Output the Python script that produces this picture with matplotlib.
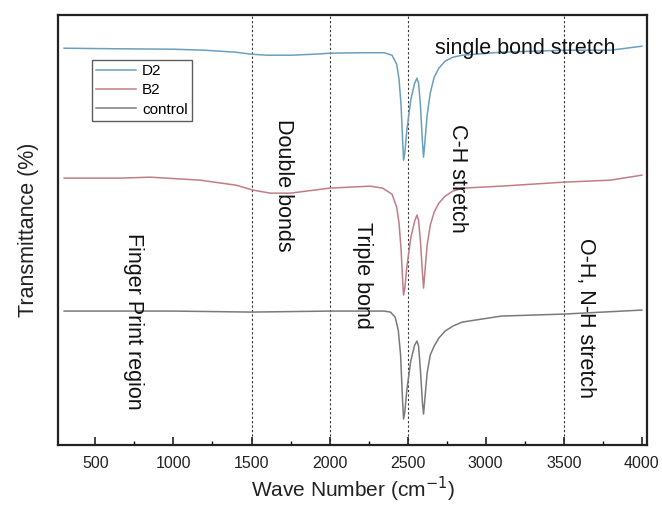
import matplotlib.pyplot as plt
from matplotlib.ticker import MultipleLocator

plt.rcParams['font.family'] = ['Liberation Sans', 'DejaVu Sans']

# Values (wave number, transmittance in plot units)
d2_x = [300, 600, 1000, 1200, 1400, 1500, 1600, 1750, 1900, 2000, 2200, 2350, 2400,
        2430, 2445, 2458, 2468, 2474, 2482, 2495, 2520, 2545, 2560, 2570, 2582, 2595,
        2602, 2610, 2625, 2645, 2670, 2700, 2740, 2790, 2850, 3100, 3500, 3800, 4000]
d2_y = [397, 396.5, 396, 395, 393, 391, 390, 390, 391, 392, 392.5, 392.5, 390,
        381, 366, 340, 305, 285, 292, 315, 345, 362, 367, 362, 340, 303,
        288, 302, 330, 352, 368, 377, 384, 388, 390, 393, 395, 395, 399]

b2_x = [300, 660, 850, 1170, 1400, 1511, 1620, 1750, 2000, 2260, 2340, 2400,
        2430, 2445, 2458, 2468, 2474, 2482, 2495, 2520, 2545, 2560, 2570, 2582, 2595,
        2602, 2610, 2625, 2645, 2670, 2700, 2740, 2790, 2850, 3100, 3500, 3800, 4000]
b2_y = [267, 267, 268, 265, 260, 255, 252, 252, 257, 259, 257, 251,
        238, 222, 196, 165, 150, 157, 178, 207, 224, 230, 225, 204, 172,
        157, 172, 200, 220, 233, 242, 249, 254, 257, 259, 263, 265, 270]

ctrl_x = [300, 1000, 1500, 2000, 2350, 2390, 2420, 2440, 2455, 2466, 2474, 2482,
          2495, 2520, 2545, 2560, 2570, 2582, 2595, 2602, 2610, 2625, 2645, 2670,
          2700, 2740, 2790, 2850, 3100, 3500, 4000]
ctrl_y = [134, 134, 133, 134, 134, 133, 128, 115, 90, 50, 26, 33,
          55, 84, 100, 104, 99, 75, 42, 31, 45, 72, 90, 99,
          107, 114, 119, 123, 129, 131, 135]

region_lines = [1500, 2000, 2500, 3500]
region_labels = ['single bond stretch', 'C-H stretch', 'Double bonds', 'Triple bond',
                 'Finger Print region', 'O-H, N-H stretch']

fig = plt.figure(figsize=(6.62, 5.08), dpi=100)
ax = fig.add_axes([0.088, 0.124, 0.889, 0.846])

ax.plot(d2_x, d2_y, color='#6b9fbf', lw=1.1, label='D2')
ax.plot(b2_x, b2_y, color='#c27d84', lw=1.1, label='B2')
ax.plot(ctrl_x, ctrl_y, color='#7a7a7a', lw=1.1, label='control')

for xv in region_lines:
    ax.axvline(xv, color='#333333', lw=0.8, linestyle=(0, (2, 2)), zorder=0)

txt = dict(fontsize=15.5, color='#111111', ha='center', va='center')
ax.text(3253, 397, region_labels[0], **txt)
ax.text(2818, 267, region_labels[1], rotation=270, **txt)
ax.text(1704, 260, region_labels[2], rotation=270, **txt)
ax.text(2209, 170, region_labels[3], rotation=270, **txt)
ax.text(743, 124, region_labels[4], rotation=270, **txt)
ax.text(3637, 127, region_labels[5], rotation=270, **txt)

ax.set_xlim(262, 4032)
ax.set_ylim(0, 430)
ax.set_yticks([])
ax.xaxis.set_major_locator(MultipleLocator(500))
ax.xaxis.set_minor_locator(MultipleLocator(250))
ax.tick_params(axis='x', which='major', direction='in', length=6, width=1.2,
               labelsize=11.5, pad=8, colors='#222222')
ax.tick_params(axis='x', which='minor', direction='in', length=3, width=1.0)
for sp in ax.spines.values():
    sp.set_linewidth(1.6)
    sp.set_color('#222222')

ax.set_xlabel('Wave Number (cm$^{-1}$)', fontsize=15, color='#222222', labelpad=3)
ax.set_ylabel('Transmittance (%)', fontsize=15.5, color='#222222', labelpad=14)

leg = ax.legend(loc='upper left', bbox_to_anchor=(0.057, 0.897), fontsize=11,
                frameon=True, fancybox=False, edgecolor='#333333', handlelength=2.6,
                handletextpad=0.4, borderpad=0.3, labelspacing=0.35, borderaxespad=0)
leg.get_frame().set_linewidth(1.0)

fig.savefig('out.png', dpi=100)
